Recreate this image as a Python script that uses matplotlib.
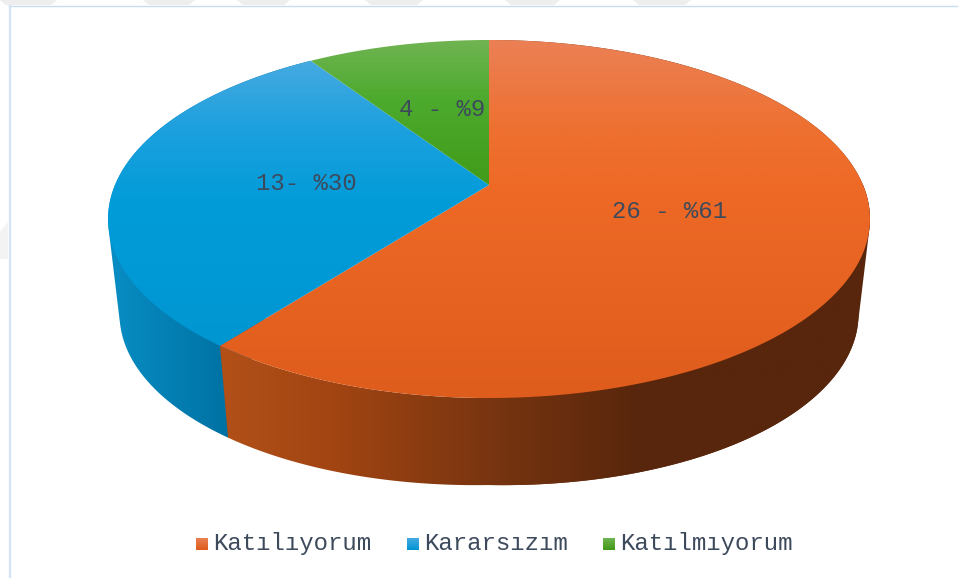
import numpy as np
import matplotlib
matplotlib.use("Agg")
import matplotlib.pyplot as plt
from matplotlib.patches import Polygon, Rectangle

# Datele graficului
categories = ["Katılıyorum", "Kararsızım", "Katılmıyorum"]
values = [26, 13, 4]
labels = ["26 - %61", "13- %30", "4 - %9"]

W, H = 963, 578
CX, CY = 489.0, 185.0  # varful feliilor
B, C, D = -137.4, 0.19, 374.0  # perspectiva discului
DEPTH = 87
MONO = "Liberation Mono"
TEXT_COLOR = "#3d4a5c"


def project(theta):
    # theta = unghi in sensul acelor de ceasornic, de la varf
    u, v = np.sin(theta), np.cos(theta)
    den = 1 + C * v
    return CX + D * u / den, (CY + B * v) / den


def project_low(theta):
    x, y = project(theta)
    return CX + (x - CX) * 0.97, y + DEPTH + 8 * np.abs(np.sin(theta))


def hull(points):
    # Infasuratoarea convexa (monotone chain)
    pts = sorted(set(map(tuple, np.round(points, 2))))

    def half(seq):
        out = []
        for p in seq:
            while len(out) > 1:
                a, b = out[-2], out[-1]
                if (b[0] - a[0]) * (p[1] - a[1]) - (b[1] - a[1]) * (p[0] - a[0]) > 0:
                    break
                out.pop()
            out.append(p)
        return out[:-1]

    return np.array(half(pts) + half(pts[::-1]))


def gradient(ax, clip, stops, vertical=True, extent=(0, W, H, 0)):
    pos = [s[0] for s in stops]
    cols = np.array([s[1] for s in stops], dtype=float) / 255
    if vertical:
        t = np.linspace(extent[3], extent[2], 800)
        img = np.stack([np.interp(t, pos, cols[:, i]) for i in range(3)], axis=-1)[:, None, :]
    else:
        t = np.linspace(extent[0], extent[1], 800)
        img = np.stack([np.interp(t, pos, cols[:, i]) for i in range(3)], axis=-1)[None, :, :]
    im = ax.imshow(img, extent=extent, aspect="auto", interpolation="bilinear", zorder=clip.get_zorder())
    im.set_clip_path(clip)


def side_piece(ax, a0, a1, stops, z, convex):
    th = np.linspace(a0, a1, 300)
    tx, ty = project(th)
    lx, ly = project_low(th)
    if convex:
        pts = hull(np.column_stack([np.r_[tx, lx], np.r_[ty, ly]]))
    else:
        pts = np.column_stack([np.r_[tx, lx[::-1]], np.r_[ty, ly[::-1]]])
    side = Polygon(pts, fc="none", ec="none", zorder=z)
    ax.add_patch(side)
    gradient(ax, side, stops, vertical=False)


top_stops = [
    [(40, (235, 128, 85)), (130, (238, 112, 48)), (190, (238, 105, 38)), (400, (222, 92, 28))],
    [(58, (72, 170, 225)), (130, (28, 160, 222)), (200, (2, 156, 217)), (350, (0, 150, 210))],
    [(40, (112, 180, 82)), (100, (76, 170, 45)), (185, (65, 155, 25))],
]
side_stops = [
    [(221, (178, 80, 24)), (340, (160, 68, 18)), (500, (118, 52, 16)), (640, (88, 38, 12)), (870, (88, 38, 12))],
    [(108, (8, 142, 196)), (229, (0, 113, 163))],
]

fig = plt.figure(figsize=(W / 100, H / 100), dpi=100)
ax = fig.add_axes([0, 0, 1, 1])
ax.set_xlim(0, W)
ax.set_ylim(H, 0)
ax.axis("off")

# Fundal: urme de filigran si chenar
for x0, x1 in [(0, 57), (143, 195), (237, 290), (365, 423), (505, 560), (633, 691)]:
    ax.add_patch(Polygon([(x0, 0), (x1, 0), (x1 - 6, 5), (x0 + 6, 5)], fc="#eeeeee", ec="none", zorder=0))
ax.add_patch(Polygon([(0, 232), (8, 222), (8, 259), (0, 259)], fc="#f3f3f3", ec="none", zorder=0))
ax.plot([9.5, 9.5], [5.5, H], color="#d5e3f7", lw=1.6, zorder=1)
ax.plot([9, 957], [5.5, 5.5], color="#c9ddf0", lw=1.0, zorder=1)

# Unghiurile feliilor, in sens orar de la varf
total = sum(values)
fracs = np.array(values) / total
start = 0.0
angles = []
for fr in fracs:
    angles.append((start, start + fr * 2 * np.pi))
    start += fr * 2 * np.pi

# Peretii laterali: intai albastru, apoi portocaliu peste el
side_piece(ax, angles[1][0], angles[1][1], side_stops[1], 2.0, True)
side_piece(ax, angles[0][0], np.pi, side_stops[0], 2.1, True)
side_piece(ax, np.pi / 2, angles[0][1], side_stops[0], 2.1, False)

for i, (a0, a1) in enumerate(angles):
    th = np.linspace(a0, a1, 300)
    tx, ty = project(th)
    pts = np.column_stack([np.r_[CX, tx], np.r_[CY, ty]])
    top = Polygon(pts, fc="none", ec="none", zorder=3)
    ax.add_patch(top)
    gradient(ax, top, top_stops[i])

# Etichete pe felii
label_pos = [(670, 212), (306, 183), (442, 110)]
for (x, y), s in zip(label_pos, labels):
    ax.text(x, y, s, family=MONO, fontsize=17.3, color=TEXT_COLOR, ha="center", va="center", zorder=5)

# Legenda
swatch_x = [196, 407, 603]
for i, name in enumerate(categories):
    sw = Rectangle((swatch_x[i], 538), 12, 12, fc="none", ec="none", zorder=4)
    ax.add_patch(sw)
    c0 = top_stops[i][0][1]
    c1 = top_stops[i][-1][1]
    gradient(ax, sw, [(538, c0), (550, c1)])
    ax.text(swatch_x[i] + 17, 543.5, name, family=MONO, fontsize=17.3, color=TEXT_COLOR, ha="left", va="center", zorder=5)

ax.set_xlim(0, W)
ax.set_ylim(H, 0)
fig.savefig("out.png", dpi=100, facecolor="white")
